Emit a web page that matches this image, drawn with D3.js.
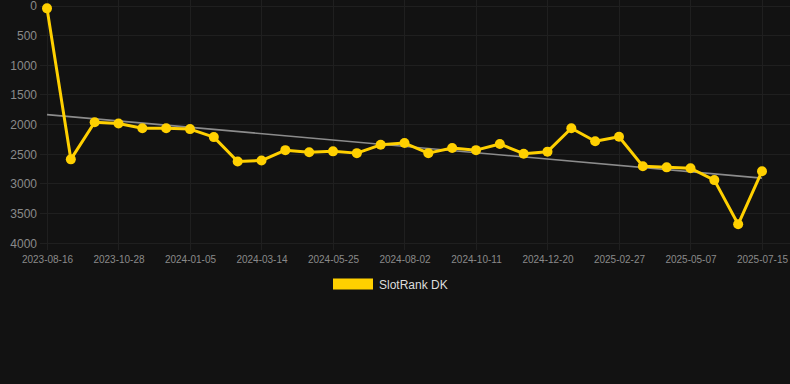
<!DOCTYPE html>
<html><head><meta charset="utf-8">
<script src="https://cdn.jsdelivr.net/npm/d3@7"></script>
<style>
html,body{margin:0;padding:0;background:#121212;}
svg{display:block;font-family:"Helvetica Neue",Arial,"Liberation Sans",sans-serif;}
</style></head>
<body><svg id="c" width="790" height="384"></svg>
<script>
const dates = ["2023-08-16","2023-09-08","2023-10-03","2023-10-28","2023-11-20","2023-12-13",
"2024-01-05","2024-01-28","2024-02-20","2024-03-14","2024-04-07","2024-05-01","2024-05-25",
"2024-06-17","2024-07-10","2024-08-02","2024-08-25","2024-09-18","2024-10-11","2024-11-03",
"2024-11-27","2024-12-20","2025-01-12","2025-02-04","2025-02-27","2025-03-22","2025-04-14",
"2025-05-07","2025-05-30","2025-06-22","2025-07-15"];
const ranks = [40,2585,1960,1980,2060,2060,2075,2210,2620,2605,2430,2465,2450,2480,2340,2310,
2480,2395,2430,2325,2490,2455,2060,2280,2205,2700,2720,2735,2935,3680,2785];
const tickLabels = ["2023-08-16","2023-10-28","2024-01-05","2024-03-14","2024-05-25","2024-08-02",
"2024-10-11","2024-12-20","2025-02-27","2025-05-07","2025-07-15"];
const yTicks = [0,500,1000,1500,2000,2500,3000,3500,4000];
const seriesName = "SlotRank DK";

const svg = d3.select("#c");
const x = d3.scalePoint().domain(dates).range([47,762]);
const y = d3.scaleLinear().domain([0,4000]).range([6,243.3]);
const gridColor = "#1f1f1f";

// horizontal grid
svg.append("g").selectAll("line").data(yTicks).join("line")
  .attr("x1",40).attr("x2",790).attr("y1",d=>y(d)).attr("y2",d=>y(d))
  .attr("stroke",gridColor).attr("stroke-width",1).attr("shape-rendering","crispEdges");
// vertical grid
svg.append("g").selectAll("line").data(tickLabels).join("line")
  .attr("x1",d=>x(d)).attr("x2",d=>x(d)).attr("y1",0).attr("y2",250)
  .attr("stroke",gridColor).attr("stroke-width",1).attr("shape-rendering","crispEdges");

// y axis labels
const yAxis = d3.axisLeft(y).tickValues(yTicks).tickFormat(d3.format("d")).tickSize(0).tickPadding(0);
const gy = svg.append("g").attr("transform","translate(37,0)").call(yAxis);
gy.select(".domain").remove();
gy.selectAll("text").attr("fill","#8a8a8a").style("font-size","12px");

// x axis labels
const xAxis = d3.axisBottom(x).tickValues(tickLabels).tickSize(0).tickPadding(0);
const gx = svg.append("g").attr("transform","translate(0,256)").call(xAxis);
gx.select(".domain").remove();
gx.selectAll("text").attr("fill","#8a8a8a").style("font-size","10px");

// trend line (least squares)
const n = ranks.length;
const idx = d3.range(n);
const mx = d3.mean(idx), my = d3.mean(ranks);
const slope = d3.sum(idx,i=>(i-mx)*(ranks[i]-my))/d3.sum(idx,i=>(i-mx)*(i-mx));
const icpt = my - slope*mx;
svg.append("line")
  .attr("x1",x(dates[0])).attr("y1",y(icpt))
  .attr("x2",x(dates[n-1])).attr("y2",y(icpt+slope*(n-1)))
  .attr("stroke","#8c8c8c").attr("stroke-width",1.6);

// series line
const line = d3.line().x((d,i)=>x(dates[i])).y(d=>y(d));
svg.append("path").datum(ranks).attr("d",line)
  .attr("fill","none").attr("stroke","#FFD000").attr("stroke-width",3).attr("stroke-linejoin","round");
svg.append("g").selectAll("circle").data(ranks).join("circle")
  .attr("cx",(d,i)=>x(dates[i])).attr("cy",d=>y(d)).attr("r",5).attr("fill","#FFD000");

// legend
const lg = svg.append("g");
lg.append("rect").attr("x",333).attr("y",278.5).attr("width",40).attr("height",11).attr("fill","#FFD000");
lg.append("text").attr("x",379).attr("y",288.5).attr("fill","#dddddd").style("font-size","12px").text(seriesName);
</script></body></html>
